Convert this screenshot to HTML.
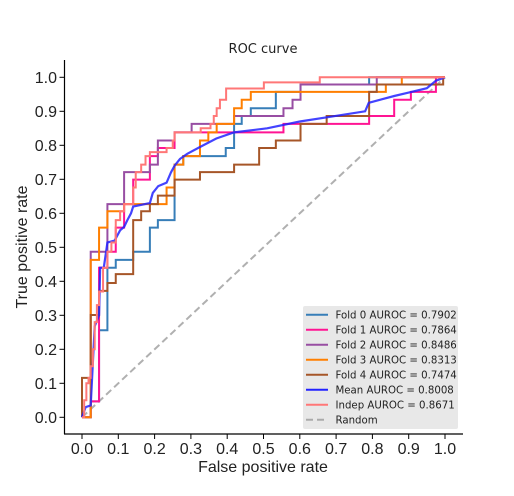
<!DOCTYPE html>
<html><head><meta charset="utf-8"><style>
body{margin:0;background:#fff;}
svg{display:block;font-family:"DejaVu Sans","Liberation Sans",sans-serif;}
.ax{font-family:"Liberation Sans",Arial,sans-serif;}
</style></head><body>
<svg id="chart" width="514" height="496" viewBox="0 0 514 496">
<text x="263" y="53" text-anchor="middle" font-size="13" fill="#222">ROC curve</text>
<g id="curves"></g>
<line x1="64.5" y1="60" x2="64.5" y2="434" stroke="#000" stroke-width="1.2"/>
<line x1="64" y1="434" x2="463" y2="434" stroke="#000" stroke-width="1.2"/>
<g id="ticks" class="ax"></g>
<text class="ax" x="263" y="472" text-anchor="middle" font-size="16" fill="#222">False positive rate</text>
<text class="ax" x="27" y="247" text-anchor="middle" font-size="16" fill="#222" transform="rotate(-90 27 247)">True positive rate</text>
<g id="legend"></g>
</svg>
<script>
const tickVals = [0,0.1,0.2,0.3,0.4,0.5,0.6,0.7,0.8,0.9,1.0];
const tickLabels = ["0.0","0.1","0.2","0.3","0.4","0.5","0.6","0.7","0.8","0.9","1.0"];
const fold0Fpr = [0,0.024,0.047,0.07,0.093,0.141,0.187,0.209,0.255,0.279,0.396,0.419,0.44,0.465,0.534,0.602,0.791,1.0];
const fold0Tpr = [0,0.047,0.256,0.44,0.463,0.487,0.558,0.58,0.743,0.768,0.792,0.863,0.886,0.909,0.957,0.979,1.0,1.0];
const fold1Fpr = [0,0.024,0.047,0.07,0.093,0.116,0.141,0.187,0.209,0.255,0.555,0.791,0.86,0.906,0.975,1.0];
const fold1Tpr = [0,0.047,0.44,0.487,0.558,0.627,0.699,0.768,0.792,0.838,0.863,0.886,0.934,0.957,1.0,1.0];
const fold2Fpr = [0,0.024,0.07,0.116,0.187,0.209,0.255,0.302,0.419,0.555,0.58,0.602,0.812,1.0];
const fold2Tpr = [0,0.487,0.627,0.721,0.743,0.814,0.838,0.863,0.886,0.909,0.934,0.979,1.0,1.0];
const fold3Fpr = [0,0.024,0.047,0.07,0.116,0.233,0.255,0.279,0.325,0.348,0.371,0.419,0.44,0.465,0.837,0.881,1.0];
const fold3Tpr = [0,0.463,0.558,0.606,0.627,0.676,0.743,0.768,0.814,0.838,0.863,0.909,0.934,0.957,0.979,1.0,1.0];
const fold4Fpr = [0,0,0.024,0.047,0.07,0.093,0.141,0.163,0.187,0.209,0.255,0.325,0.419,0.488,0.534,0.602,0.674,0.791,0.812,0.995,1.0];
const fold4Tpr = [0,0.116,0.301,0.372,0.395,0.421,0.58,0.606,0.627,0.652,0.699,0.721,0.743,0.792,0.814,0.863,0.886,0.957,0.979,1.0,1.0];
const meanFpr = [0,0.01,0.024,0.035,0.047,0.05,0.06,0.07,0.09,0.105,0.116,0.125,0.135,0.141,0.187,0.195,0.21,0.233,0.245,0.255,0.27,0.29,0.325,0.37,0.419,0.51,0.6,0.69,0.78,0.79,0.86,0.9,0.95,0.975,1.0];
const meanTpr = [0,0.03,0.035,0.268,0.3,0.44,0.44,0.514,0.52,0.55,0.56,0.58,0.6,0.62,0.63,0.66,0.68,0.69,0.72,0.74,0.76,0.775,0.795,0.82,0.838,0.85,0.87,0.885,0.9,0.925,0.945,0.955,0.968,0.99,1.0];
const indepFpr = [0,0.006,0.012,0.018,0.024,0.03,0.035,0.041,0.047,0.058,0.07,0.081,0.093,0.105,0.116,0.141,0.148,0.163,0.175,0.187,0.233,0.25,0.255,0.327,0.354,0.363,0.371,0.38,0.397,0.501,0.655,1.0];
const indepTpr = [0,0.05,0.1,0.116,0.15,0.2,0.28,0.33,0.37,0.44,0.487,0.514,0.58,0.606,0.627,0.676,0.721,0.743,0.768,0.78,0.792,0.814,0.838,0.85,0.863,0.886,0.909,0.934,0.967,0.985,1.0,1.0];
const randomFpr = [0,1];
const randomTpr = [0,1];
const seriesLabels = ["Fold 0 AUROC = 0.7902","Fold 1 AUROC = 0.7864","Fold 2 AUROC = 0.8486","Fold 3 AUROC = 0.8313","Fold 4 AUROC = 0.7474","Mean AUROC = 0.8008","Indep AUROC = 0.8671","Random"];

const NS = "http://www.w3.org/2000/svg";
function xs(v){ return 82 + v*363; }
function ys(v){ return 417.3 - v*340; }
function mk(tag, attrs, parent){
  const e = document.createElementNS(NS, tag);
  for (const k in attrs) e.setAttribute(k, attrs[k]);
  parent.appendChild(e); return e;
}
const ticksG = document.getElementById('ticks');
tickVals.forEach((v,i)=>{
  let t = mk('line',{x1:xs(v),y1:434,x2:xs(v),y2:439,stroke:'#000'},ticksG);
  
  
  let l = mk('text',{x:xs(v),y:454,'text-anchor':'middle','font-size':'16',fill:'#222'},ticksG);
  l.textContent = tickLabels[i];
  
  
  let t2 = mk('line',{x1:59.5,y1:ys(v),x2:64.5,y2:ys(v),stroke:'#000'},ticksG);
  
  
  let l2 = mk('text',{x:57,y:ys(v)+5.5,'text-anchor':'end','font-size':'16',fill:'#222'},ticksG);
  l2.textContent = tickLabels[i];
  
  
});
function stepPath(f,t){
  let d = 'M'+xs(f[0])+' '+ys(t[0]);
  for(let i=1;i<f.length;i++){ d += ' L'+xs(f[i])+' '+ys(t[i-1])+' L'+xs(f[i])+' '+ys(t[i]); }
  return d;
}
function linePath(f,t){
  let d = 'M'+xs(f[0])+' '+ys(t[0]);
  for(let i=1;i<f.length;i++) d += ' L'+xs(f[i])+' '+ys(t[i]);
  return d;
}
const cg = document.getElementById('curves');
const series = [
  {f:fold0Fpr,t:fold0Tpr,c:'#377eb8',w:2,step:true,n:'fold-0-curve'},
  {f:fold1Fpr,t:fold1Tpr,c:'#ff1493',w:2,step:true,n:'fold-1-curve'},
  {f:fold2Fpr,t:fold2Tpr,c:'#984ea3',w:2,step:true,n:'fold-2-curve'},
  {f:fold3Fpr,t:fold3Tpr,c:'#ff7f00',w:2,step:true,n:'fold-3-curve'},
  {f:fold4Fpr,t:fold4Tpr,c:'#a65628',w:2,step:true,n:'fold-4-curve'},
  {f:meanFpr,t:meanTpr,c:'#2222ff',w:2.2,step:false,n:'mean-curve',o:0.85},
  {f:indepFpr,t:indepTpr,c:'#ff7777',w:2,step:true,n:'indep-curve'},
  {f:randomFpr,t:randomTpr,c:'#aaaaaa',w:2,step:false,n:'random-line',dash:'7,4'}
];
const rnd = mk('path',{d:linePath(randomFpr,randomTpr),stroke:'#b0b0b0','stroke-width':2,fill:'none','stroke-dasharray':'7,4'},cg);


series.slice(0,7).forEach(s=>{
  const p = mk('path',{d:s.step?stepPath(s.f,s.t):linePath(s.f,s.t),stroke:s.c,'stroke-width':s.w,fill:'none','stroke-opacity':s.o||1},cg);
  
  
});
const lg = document.getElementById('legend');
mk('rect',{x:303,y:306,width:155,height:123,rx:2,fill:'#e8e8e8'},lg);
seriesLabels.forEach((lab,i)=>{
  const y = 314.7 + i*15;
  const s = series[i];
  const ln = mk('line',{x1:306,y1:y,x2:328,y2:y,stroke:s.c,'stroke-width':2},lg);
  if(s.dash) ln.setAttribute('stroke-dasharray','7,4');
  
  
  const tx = mk('text',{x:335.5,y:y+3.8,'font-size':'10.2',fill:'#222'},lg);
  tx.textContent = lab;
  
  
});
</script>
</body></html>
